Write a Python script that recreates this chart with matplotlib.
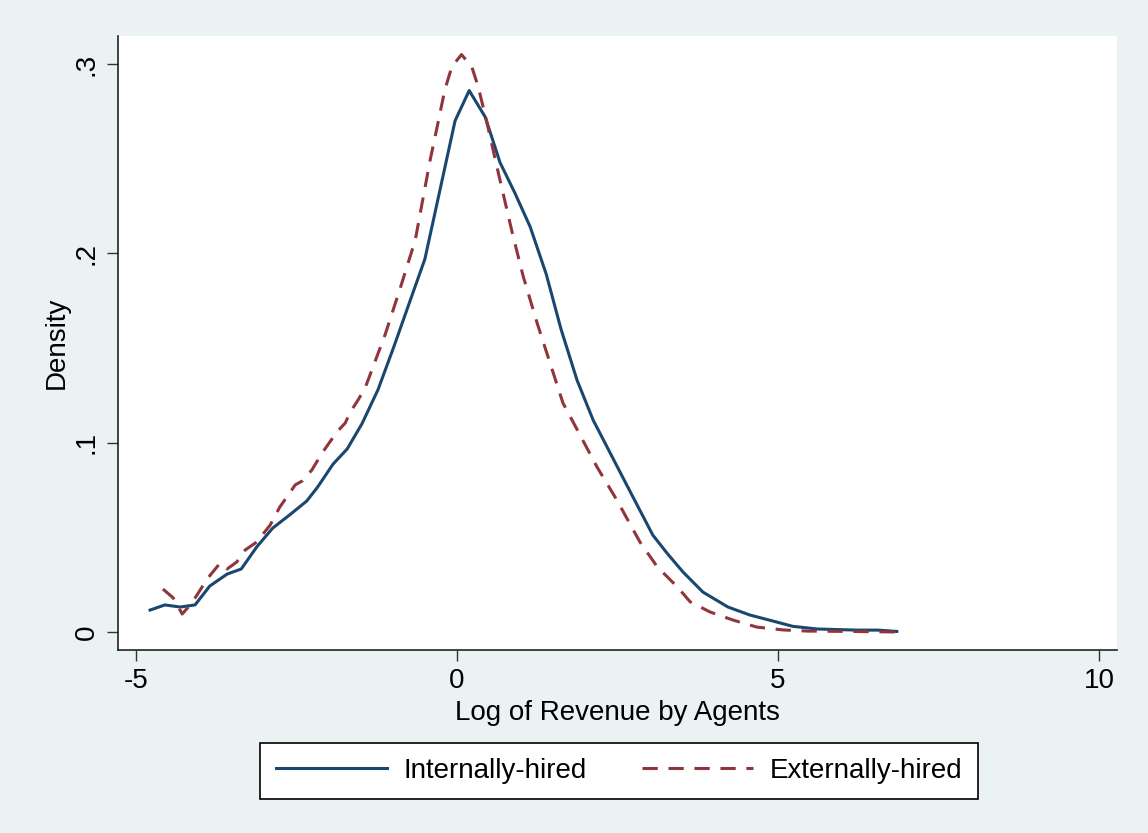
import matplotlib.pyplot as plt

# kernel density estimates
internal_x = [-4.78, -4.55, -4.31, -4.08, -3.85, -3.58, -3.36, -3.12, -2.87, -2.59,
              -2.34, -2.17, -1.93, -1.71, -1.48, -1.23, -0.98, -0.73, -0.50, -0.03,
              0.19, 0.44, 0.67, 0.90, 1.14, 1.39, 1.62, 1.87, 2.12, 2.37,
              2.62, 2.87, 3.05, 3.27, 3.52, 3.83, 4.22, 4.56, 4.92, 5.23,
              5.61, 6.23, 6.56, 6.85]
internal_y = [0.0116, 0.0143, 0.0132, 0.0143, 0.0243, 0.0306, 0.0333, 0.0449, 0.0549, 0.0623,
              0.0692, 0.0766, 0.0887, 0.0967, 0.110, 0.128, 0.151, 0.175, 0.197, 0.270,
              0.286, 0.272, 0.248, 0.232, 0.214, 0.189, 0.160, 0.133, 0.112, 0.0956,
              0.0792, 0.0629, 0.0512, 0.0417, 0.0317, 0.0211, 0.0132, 0.0090, 0.0058, 0.0030,
              0.0016, 0.0010, 0.0010, 0.0003]

external_x = [-4.58, -4.42, -4.28, -4.13, -4.00, -3.88, -3.69, -3.58, -3.43, -3.30,
              -3.12, -2.91, -2.76, -2.65, -2.52, -2.41, -2.26, -2.10, -1.98, -1.87,
              -1.74, -1.67, -1.54, -1.43, -1.12, -0.89, -0.65, -0.42, -0.32, -0.19,
              -0.08, 0.07, 0.23, 0.33, 0.46, 0.62, 0.86, 1.03, 1.25, 1.45,
              1.65, 1.87, 2.18, 2.49, 2.85, 3.12, 3.43, 3.63, 3.94, 4.30,
              4.67, 5.08, 5.45, 6.12, 6.90]
external_y = [0.0227, 0.0180, 0.0095, 0.0153, 0.0222, 0.0285, 0.0364, 0.0333, 0.0370, 0.0433,
              0.0475, 0.0565, 0.0660, 0.0713, 0.0777, 0.0798, 0.0856, 0.0946, 0.1004, 0.1057,
              0.1104, 0.1157, 0.1226, 0.129, 0.157, 0.181, 0.207, 0.249, 0.265, 0.2863,
              0.2986, 0.305, 0.2986, 0.288, 0.270, 0.246, 0.211, 0.188, 0.163, 0.142,
              0.121, 0.107, 0.0872, 0.0697, 0.0475, 0.0344, 0.0239, 0.0160, 0.0106, 0.0063,
              0.0026, 0.0011, 0.0005, 0.0003, 0.0]

x_ticks = [-5, 0, 5, 10]
x_tick_labels = ["-5", "0", "5", "10"]
y_ticks = [0, 0.1, 0.2, 0.3]
y_tick_labels = ["0", ".1", ".2", ".3"]

plt.rcParams["font.family"] = ["Liberation Sans", "DejaVu Sans"]

fig = plt.figure(figsize=(11.48, 8.33), dpi=100, facecolor="#eaf2f3")
ax = fig.add_axes([118 / 1148, 1 - 650 / 833, (1117 - 118) / 1148, (650 - 36) / 833])
ax.set_facecolor("white")

ax.plot(internal_x, internal_y, color="#1a476f", lw=2.2, label="Internally-hired")
ax.plot(external_x, external_y, color="#90353b", lw=2.2, dashes=(5, 3.5),
        label="Externally-hired")

ax.set_xlim(-5.28, 10.28)
ax.set_ylim(-0.0095, 0.3148)
ax.set_xticks(x_ticks)
ax.set_xticklabels(x_tick_labels)
ax.set_yticks(y_ticks)
ax.set_yticklabels(y_tick_labels, rotation=90, va="center")
ax.tick_params(labelsize=20, length=8, width=1, color="#333333", pad=5)

for side in ["top", "right"]:
    ax.spines[side].set_visible(False)
for side in ["left", "bottom"]:
    ax.spines[side].set_color("#222222")
    ax.spines[side].set_linewidth(1.2)

ax.set_xlabel("Log of Revenue by Agents", fontsize=20, labelpad=4)
ax.set_ylabel("Density", fontsize=20, labelpad=3)

leg = fig.legend(loc="center", bbox_to_anchor=(619 / 1148, 1 - 771 / 833), ncol=2,
                 fontsize=20, frameon=True, fancybox=False, framealpha=1,
                 handlelength=4.0, handletextpad=0.6, columnspacing=2.0,
                 borderpad=0.55, borderaxespad=0)
leg.get_frame().set_edgecolor("black")
leg.get_frame().set_linewidth(1.2)

fig.savefig("out.png", dpi=100, facecolor=fig.get_facecolor())
